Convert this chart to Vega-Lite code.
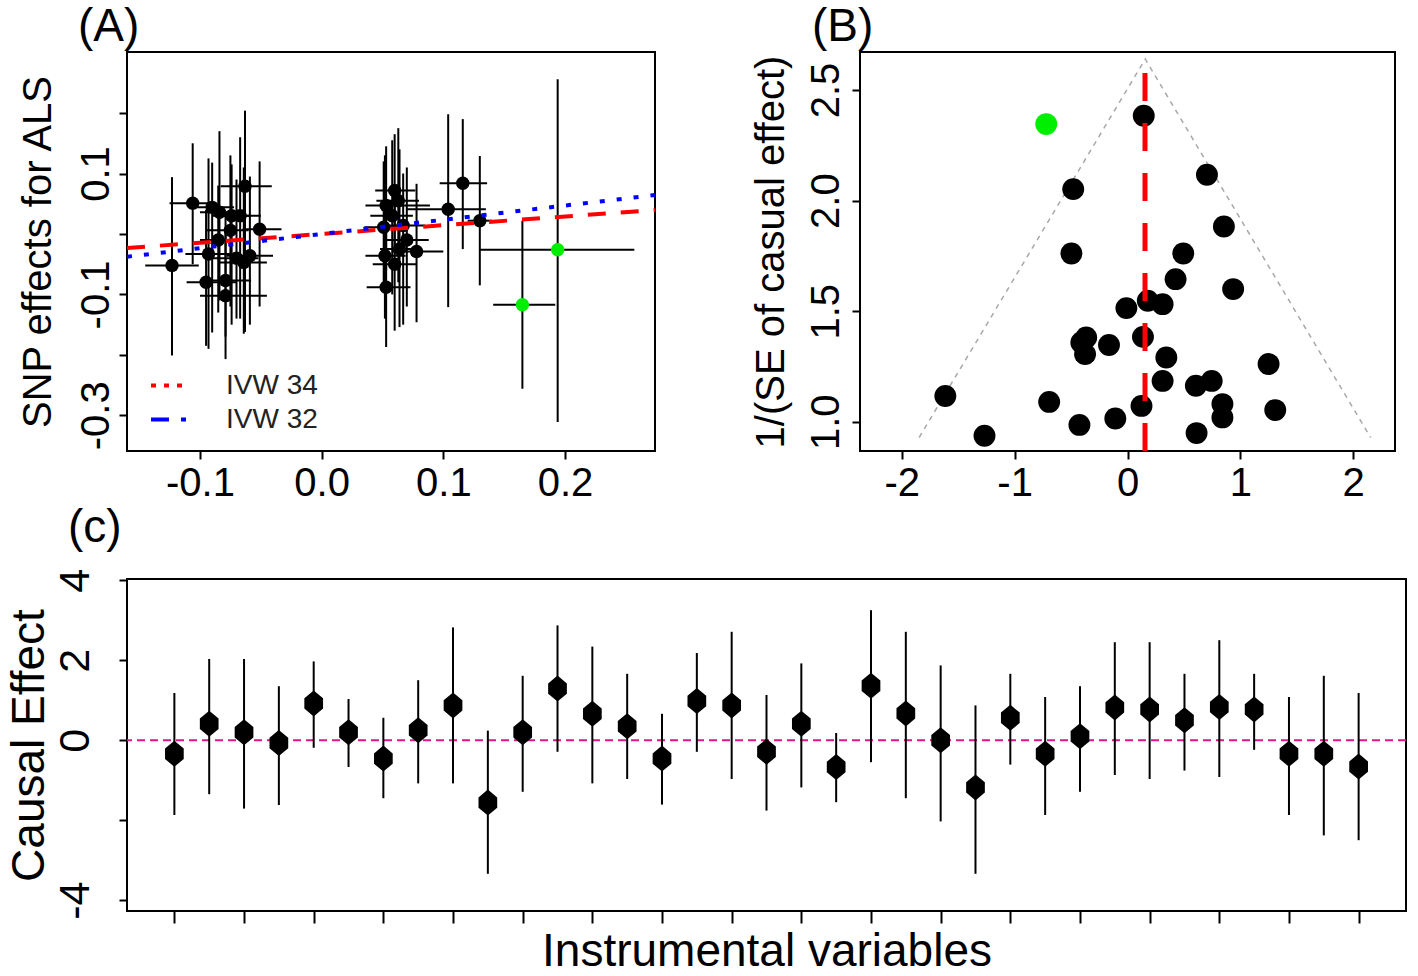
{
  "$schema": "https://vega.github.io/schema/vega-lite/v6.json",
  "padding": {"left": 4, "top": 3, "right": 5, "bottom": 3},
  "background": "white",
  "config": {
    "font": "Liberation Sans",
    "view": {"stroke": "black", "strokeWidth": 2},
    "axis": {"domain": false, "grid": false, "ticks": true, "tickColor": "black", "tickWidth": 2, "tickSize": 8,
             "labelColor": "black", "titleColor": "black", "labelFont": "Liberation Sans", "titleFont": "Liberation Sans",
             "titleFontWeight": "normal", "labelFontWeight": "normal", "labelOverlap": false},
    "title": {"font": "Liberation Sans", "fontWeight": "normal", "color": "black"}
  },
  "datasets": {
    "snp": [
      {"x": -0.123, "y": -0.052, "xlo": -0.145, "xhi": -0.101, "ylo": -0.201, "yhi": 0.094, "g": "main"},
      {"x": -0.106, "y": 0.051, "xlo": -0.125, "xhi": -0.092, "ylo": -0.050, "yhi": 0.150, "g": "main"},
      {"x": -0.093, "y": -0.033, "xlo": -0.112, "xhi": -0.074, "ylo": -0.190, "yhi": 0.125, "g": "main"},
      {"x": -0.090, "y": 0.044, "xlo": -0.105, "xhi": -0.072, "ylo": -0.163, "yhi": 0.118, "g": "main"},
      {"x": -0.084, "y": 0.036, "xlo": -0.100, "xhi": -0.065, "ylo": -0.110, "yhi": 0.170, "g": "main"},
      {"x": -0.095, "y": -0.080, "xlo": -0.111, "xhi": -0.070, "ylo": -0.185, "yhi": 0.040, "g": "main"},
      {"x": -0.079, "y": -0.077, "xlo": -0.095, "xhi": -0.058, "ylo": -0.170, "yhi": 0.035, "g": "main"},
      {"x": -0.079, "y": -0.102, "xlo": -0.100, "xhi": -0.045, "ylo": -0.207, "yhi": 0.005, "g": "main"},
      {"x": -0.074, "y": 0.030, "xlo": -0.090, "xhi": -0.058, "ylo": -0.150, "yhi": 0.115, "g": "main"},
      {"x": -0.067, "y": 0.030, "xlo": -0.083, "xhi": -0.050, "ylo": -0.140, "yhi": 0.160, "g": "main"},
      {"x": -0.063, "y": 0.079, "xlo": -0.083, "xhi": -0.041, "ylo": -0.162, "yhi": 0.204, "g": "main"},
      {"x": -0.075, "y": 0.006, "xlo": -0.095, "xhi": -0.060, "ylo": -0.120, "yhi": 0.130, "g": "main"},
      {"x": -0.064, "y": -0.047, "xlo": -0.085, "xhi": -0.045, "ylo": -0.165, "yhi": 0.110, "g": "main"},
      {"x": -0.059, "y": -0.036, "xlo": -0.078, "xhi": -0.040, "ylo": -0.150, "yhi": 0.095, "g": "main"},
      {"x": -0.051, "y": 0.008, "xlo": -0.065, "xhi": -0.033, "ylo": -0.120, "yhi": 0.120, "g": "main"},
      {"x": -0.070, "y": -0.040, "xlo": -0.090, "xhi": -0.052, "ylo": -0.140, "yhi": 0.090, "g": "main"},
      {"x": 0.053, "y": -0.088, "xlo": 0.037, "xhi": 0.073, "ylo": -0.187, "yhi": 0.010, "g": "main"},
      {"x": 0.052, "y": -0.036, "xlo": 0.036, "xhi": 0.069, "ylo": -0.140, "yhi": 0.130, "g": "main"},
      {"x": 0.064, "y": -0.025, "xlo": 0.048, "xhi": 0.080, "ylo": -0.154, "yhi": 0.140, "g": "main"},
      {"x": 0.078, "y": -0.029, "xlo": 0.058, "xhi": 0.100, "ylo": -0.146, "yhi": 0.083, "g": "main"},
      {"x": 0.051, "y": 0.011, "xlo": 0.035, "xhi": 0.068, "ylo": -0.080, "yhi": 0.120, "g": "main"},
      {"x": 0.067, "y": 0.014, "xlo": 0.050, "xhi": 0.085, "ylo": -0.150, "yhi": 0.100, "g": "main"},
      {"x": 0.053, "y": 0.047, "xlo": 0.036, "xhi": 0.089, "ylo": -0.060, "yhi": 0.145, "g": "main"},
      {"x": 0.063, "y": 0.055, "xlo": 0.045, "xhi": 0.080, "ylo": -0.080, "yhi": 0.175, "g": "main"},
      {"x": 0.060, "y": 0.072, "xlo": 0.044, "xhi": 0.077, "ylo": -0.030, "yhi": 0.165, "g": "main"},
      {"x": 0.058, "y": 0.030, "xlo": 0.040, "xhi": 0.075, "ylo": -0.100, "yhi": 0.155, "g": "main"},
      {"x": 0.104, "y": 0.041, "xlo": 0.070, "xhi": 0.135, "ylo": -0.121, "yhi": 0.198, "g": "main"},
      {"x": 0.116, "y": 0.084, "xlo": 0.097, "xhi": 0.136, "ylo": -0.025, "yhi": 0.190, "g": "main"},
      {"x": 0.130, "y": 0.022, "xlo": 0.120, "xhi": 0.140, "ylo": -0.085, "yhi": 0.129, "g": "main"},
      {"x": 0.070, "y": -0.010, "xlo": 0.052, "xhi": 0.088, "ylo": -0.120, "yhi": 0.110, "g": "main"},
      {"x": 0.060, "y": -0.050, "xlo": 0.042, "xhi": 0.078, "ylo": -0.160, "yhi": 0.060, "g": "main"},
      {"x": -0.085, "y": -0.010, "xlo": -0.100, "xhi": -0.070, "ylo": -0.130, "yhi": 0.080, "g": "main"},
      {"x": 0.165, "y": -0.117, "xlo": 0.141, "xhi": 0.192, "ylo": -0.256, "yhi": 0.022, "g": "outlier"},
      {"x": 0.194, "y": -0.026, "xlo": 0.130, "xhi": 0.257, "ylo": -0.311, "yhi": 0.256, "g": "outlier"}
    ],
    "ivw": [
      {"x": -0.16, "y": -0.0232, "m": "IVW 34"},
      {"x": 0.274, "y": 0.0397, "m": "IVW 34"},
      {"x": -0.16, "y": -0.0376, "m": "IVW 32"},
      {"x": 0.274, "y": 0.0644, "m": "IVW 32"}
    ],
    "funnel": [
      {"x": -1.846, "y": 0.929},
      {"x": 0.157, "y": 2.64},
      {"x": 2.154, "y": 0.929}
    ],
    "ivwline": [{"x": 0.155, "ytop": 2.577, "ybot": 0.868}],
    "fpts": [
      {"x": -0.720, "y": 2.346, "g": "outlier"},
      {"x": 0.144, "y": 2.384, "g": "main"},
      {"x": 0.704, "y": 2.117, "g": "main"},
      {"x": -0.481, "y": 2.052, "g": "main"},
      {"x": 0.854, "y": 1.883, "g": "main"},
      {"x": -0.497, "y": 1.761, "g": "main"},
      {"x": 0.494, "y": 1.761, "g": "main"},
      {"x": 0.426, "y": 1.645, "g": "main"},
      {"x": 0.936, "y": 1.600, "g": "main"},
      {"x": -0.010, "y": 1.514, "g": "main"},
      {"x": 0.180, "y": 1.547, "g": "main"},
      {"x": 0.311, "y": 1.532, "g": "main"},
      {"x": 0.137, "y": 1.384, "g": "main"},
      {"x": -0.409, "y": 1.359, "g": "main"},
      {"x": -0.376, "y": 1.306, "g": "main"},
      {"x": -0.366, "y": 1.381, "g": "main"},
      {"x": -0.164, "y": 1.347, "g": "main"},
      {"x": 0.344, "y": 1.291, "g": "main"},
      {"x": 1.250, "y": 1.261, "g": "main"},
      {"x": 0.311, "y": 1.185, "g": "main"},
      {"x": 0.606, "y": 1.163, "g": "main"},
      {"x": 0.746, "y": 1.185, "g": "main"},
      {"x": 0.841, "y": 1.080, "g": "main"},
      {"x": 0.841, "y": 1.020, "g": "main"},
      {"x": 1.309, "y": 1.053, "g": "main"},
      {"x": 0.124, "y": 1.072, "g": "main"},
      {"x": -0.108, "y": 1.015, "g": "main"},
      {"x": -0.426, "y": 0.986, "g": "main"},
      {"x": -0.694, "y": 1.090, "g": "main"},
      {"x": -1.614, "y": 1.117, "g": "main"},
      {"x": -1.267, "y": 0.937, "g": "main"},
      {"x": 0.612, "y": 0.949, "g": "main"}
    ],
    "iv": [
      {"iv": 1, "est": -0.34, "lo": -1.87, "hi": 1.18},
      {"iv": 2, "est": 0.41, "lo": -1.35, "hi": 2.03},
      {"iv": 3, "est": 0.20, "lo": -1.71, "hi": 2.03},
      {"iv": 4, "est": -0.07, "lo": -1.62, "hi": 1.35},
      {"iv": 5, "est": 0.92, "lo": -0.19, "hi": 1.97},
      {"iv": 6, "est": 0.20, "lo": -0.67, "hi": 1.03},
      {"iv": 7, "est": -0.46, "lo": -1.45, "hi": 0.56},
      {"iv": 8, "est": 0.25, "lo": -1.08, "hi": 1.50},
      {"iv": 9, "est": 0.87, "lo": -1.08, "hi": 2.82},
      {"iv": 10, "est": -1.56, "lo": -3.34, "hi": 0.24},
      {"iv": 11, "est": 0.20, "lo": -1.29, "hi": 1.61},
      {"iv": 12, "est": 1.29, "lo": -0.29, "hi": 2.87},
      {"iv": 13, "est": 0.66, "lo": -1.08, "hi": 2.34},
      {"iv": 14, "est": 0.35, "lo": -0.97, "hi": 1.66},
      {"iv": 15, "est": -0.46, "lo": -1.61, "hi": 0.66},
      {"iv": 16, "est": 0.98, "lo": -0.29, "hi": 2.18},
      {"iv": 17, "est": 0.87, "lo": -0.97, "hi": 2.71},
      {"iv": 18, "est": -0.29, "lo": -1.76, "hi": 1.13},
      {"iv": 19, "est": 0.41, "lo": -1.18, "hi": 1.92},
      {"iv": 20, "est": -0.67, "lo": -1.55, "hi": 0.18},
      {"iv": 21, "est": 1.36, "lo": -0.55, "hi": 3.25},
      {"iv": 22, "est": 0.67, "lo": -1.45, "hi": 2.71},
      {"iv": 23, "est": 0.00, "lo": -2.03, "hi": 1.87},
      {"iv": 24, "est": -1.18, "lo": -3.34, "hi": 0.87},
      {"iv": 25, "est": 0.56, "lo": -0.61, "hi": 1.66},
      {"iv": 26, "est": -0.34, "lo": -1.87, "hi": 1.08},
      {"iv": 27, "est": 0.10, "lo": -1.29, "hi": 1.35},
      {"iv": 28, "est": 0.82, "lo": -0.87, "hi": 2.45},
      {"iv": 29, "est": 0.77, "lo": -0.97, "hi": 2.45},
      {"iv": 30, "est": 0.50, "lo": -0.76, "hi": 1.66},
      {"iv": 31, "est": 0.83, "lo": -0.92, "hi": 2.50},
      {"iv": 32, "est": 0.77, "lo": -0.24, "hi": 1.66},
      {"iv": 33, "est": -0.34, "lo": -1.87, "hi": 1.08},
      {"iv": 34, "est": -0.34, "lo": -2.38, "hi": 1.61},
      {"iv": 35, "est": -0.66, "lo": -2.50, "hi": 1.18}
    ]
  },
  "bounds": "flush",
  "spacing": 527,
  "vconcat": [
    {
      "bounds": "flush",
      "spacing": 205,
      "hconcat": [
        {
          "width": 528,
          "height": 399,
          "title": {"text": "(A)", "anchor": "start", "frame": "group", "dx": -49, "offset": -35, "fontSize": 46, "baseline": "alphabetic"},
          "layer": [
            {
              "data": {"name": "snp"},
              "mark": {"type": "rule", "color": "black", "strokeWidth": 2},
              "encoding": {
                "x": {"field": "xlo", "type": "quantitative", "scale": {"domain": [-0.16, 0.274], "nice": false, "zero": false},
                      "axis": {"values": [-0.1, 0, 0.1, 0.2], "format": ".1f", "labelExpr": "replace(datum.label, '−', '-')", "labelFontSize": 40, "labelPadding": 4}, "title": null},
                "x2": {"field": "xhi"},
                "y": {"field": "y", "type": "quantitative", "scale": {"domain": [-0.359, 0.301], "nice": false, "zero": false},
                      "axis": {"values": [-0.3, -0.2, -0.1, 0, 0.1, 0.2], "format": ".1f", "labelExpr": "round(datum.value*10) % 2 == 0 ? '' : replace(datum.label, '−', '-')", "labelAngle": -90, "labelAlign": "center", "labelBaseline": "bottom", "labelFontSize": 40, "labelPadding": 3, "titleFontSize": 40, "titlePadding": 18}, "title": "SNP effects for ALS"}
              }
            },
            {
              "data": {"name": "snp"},
              "mark": {"type": "rule", "color": "black", "strokeWidth": 2},
              "encoding": {
                "x": {"field": "x", "type": "quantitative", "title": null},
                "y": {"field": "ylo", "type": "quantitative", "title": "SNP effects for ALS"},
                "y2": {"field": "yhi"}
              }
            },
            {
              "data": {"name": "snp"},
              "transform": [{"filter": "datum.g == 'main'"}],
              "mark": {"type": "circle", "color": "black", "opacity": 1, "size": 180},
              "encoding": {
                "x": {"field": "x", "type": "quantitative", "title": null},
                "y": {"field": "y", "type": "quantitative", "title": "SNP effects for ALS"}
              }
            },
            {
              "data": {"name": "snp"},
              "transform": [{"filter": "datum.g == 'outlier'"}],
              "mark": {"type": "circle", "color": "#00ee00", "opacity": 1, "size": 180},
              "encoding": {
                "x": {"field": "x", "type": "quantitative", "title": null},
                "y": {"field": "y", "type": "quantitative", "title": "SNP effects for ALS"}
              }
            },
            {
              "data": {"name": "ivw"},
              "transform": [{"filter": "datum.m == 'IVW 34'"}],
              "mark": {"type": "line", "strokeWidth": 4, "strokeDash": [18, 15]},
              "encoding": {
                "x": {"field": "x", "type": "quantitative", "title": null},
                "y": {"field": "y", "type": "quantitative", "title": "SNP effects for ALS"},
                "color": {"field": "m", "type": "nominal", "scale": {"domain": ["IVW 34", "IVW 32"], "range": ["#ff0000", "#0000ff"]},
                          "legend": {"title": null, "orient": "none", "legendX": 22, "legendY": 314, "padding": 0, "symbolType": "stroke", "symbolSize": 1225, "symbolStrokeWidth": 4, "labelFontSize": 28, "labelColor": "#222222", "labelFont": "Liberation Sans", "labelOffset": 38, "rowPadding": -6,
                                     "encode": {"symbols": {"update": {"strokeDash": {"signal": "datum.value === 'IVW 34' ? [5, 8] : [18, 12]"}}}}}}
              }
            },
            {
              "data": {"name": "ivw"},
              "transform": [{"filter": "datum.m == 'IVW 32'"}],
              "mark": {"type": "line", "strokeWidth": 4, "strokeDash": [5, 12]},
              "encoding": {
                "x": {"field": "x", "type": "quantitative", "title": null},
                "y": {"field": "y", "type": "quantitative", "title": "SNP effects for ALS"},
                "color": {"field": "m", "type": "nominal"}
              }
            }
          ]
        },
        {
          "width": 535,
          "height": 399,
          "title": {"text": "(B)", "anchor": "start", "frame": "group", "dx": -48, "offset": -35, "fontSize": 46, "baseline": "alphabetic"},
          "layer": [
            {
              "data": {"name": "funnel"},
              "mark": {"type": "line", "color": "#a8a8a8", "strokeWidth": 1.5, "strokeDash": [5, 5]},
              "encoding": {
                "x": {"field": "x", "type": "quantitative", "scale": {"domain": [-2.37, 2.37], "nice": false, "zero": false},
                      "axis": {"values": [-2, -1, 0, 1, 2], "format": "d", "labelExpr": "replace(datum.label, '−', '-')", "labelFontSize": 40, "labelPadding": 4}, "title": null},
                "y": {"field": "y", "type": "quantitative", "scale": {"domain": [0.868, 2.672], "nice": false, "zero": false},
                      "axis": {"values": [1, 1.5, 2, 2.5], "format": ".1f", "labelAngle": -90, "labelAlign": "center", "labelBaseline": "bottom", "labelFontSize": 40, "labelPadding": 6, "titleFontSize": 40, "titlePadding": 15}, "title": "1/(SE of casual effect)"}
              }
            },
            {
              "data": {"name": "fpts"},
              "transform": [{"filter": "datum.g == 'main'"}],
              "mark": {"type": "circle", "color": "black", "opacity": 1, "size": 480},
              "encoding": {
                "x": {"field": "x", "type": "quantitative", "title": null},
                "y": {"field": "y", "type": "quantitative", "title": "1/(SE of casual effect)"}
              }
            },
            {
              "data": {"name": "fpts"},
              "transform": [{"filter": "datum.g == 'outlier'"}],
              "mark": {"type": "circle", "color": "#00ee00", "opacity": 1, "size": 480},
              "encoding": {
                "x": {"field": "x", "type": "quantitative", "title": null},
                "y": {"field": "y", "type": "quantitative", "title": "1/(SE of casual effect)"}
              }
            },
            {
              "data": {"name": "ivwline"},
              "mark": {"type": "rule", "color": "#ff0000", "strokeWidth": 5, "strokeDash": [28, 22]},
              "encoding": {
                "x": {"field": "x", "type": "quantitative", "title": null},
                "y": {"field": "ytop", "type": "quantitative", "title": "1/(SE of casual effect)"},
                "y2": {"field": "ybot"}
              }
            }
          ]
        }
      ]
    },
    {
      "width": 1279,
      "height": 332,
      "title": {"text": "(c)", "anchor": "start", "frame": "group", "dx": -59, "offset": -20, "fontSize": 46, "baseline": "alphabetic"},
      "layer": [
        {
          "data": {"values": [{"ref": 0}]},
          "mark": {"type": "rule", "color": "#e0158a", "strokeWidth": 2, "strokeDash": [8, 5]},
          "encoding": {
            "y": {"field": "ref", "type": "quantitative", "title": "Causal Effect"}
          }
        },
        {
          "data": {"name": "iv"},
          "mark": {"type": "rule", "color": "black", "strokeWidth": 2},
          "encoding": {
            "x": {"field": "iv", "type": "quantitative", "scale": {"domain": [-0.36, 36.36], "nice": false, "zero": false},
                  "axis": {"values": [1,2,3,4,5,6,7,8,9,10,11,12,13,14,15,16,17,18,19,20,21,22,23,24,25,26,27,28,29,30,31,32,33,34,35], "labels": false, "tickSize": 12, "titleFontSize": 46, "titlePadding": 5}, "title": "Instrumental variables"},
            "y": {"field": "lo", "type": "quantitative", "scale": {"domain": [-4.27, 4.03], "nice": false, "zero": false},
                  "axis": {"values": [-4, -2, 0, 2, 4], "labelExpr": "datum.value == -2 ? '' : replace(datum.label, '−', '-')", "labelAngle": -90, "labelAlign": "center", "labelBaseline": "bottom", "labelFontSize": 43, "labelPadding": 22, "titleFontSize": 46, "titlePadding": 1}, "title": "Causal Effect"},
            "y2": {"field": "hi"}
          }
        },
        {
          "data": {"name": "iv"},
          "mark": {"type": "point", "shape": "M0,-1L0.72,-0.4L0.72,0.4L0,1L-0.72,0.4L-0.72,-0.4Z", "filled": true, "color": "black", "opacity": 1, "size": 676},
          "encoding": {
            "x": {"field": "iv", "type": "quantitative", "title": "Instrumental variables"},
            "y": {"field": "est", "type": "quantitative", "title": "Causal Effect"}
          }
        }
      ]
    }
  ]
}
